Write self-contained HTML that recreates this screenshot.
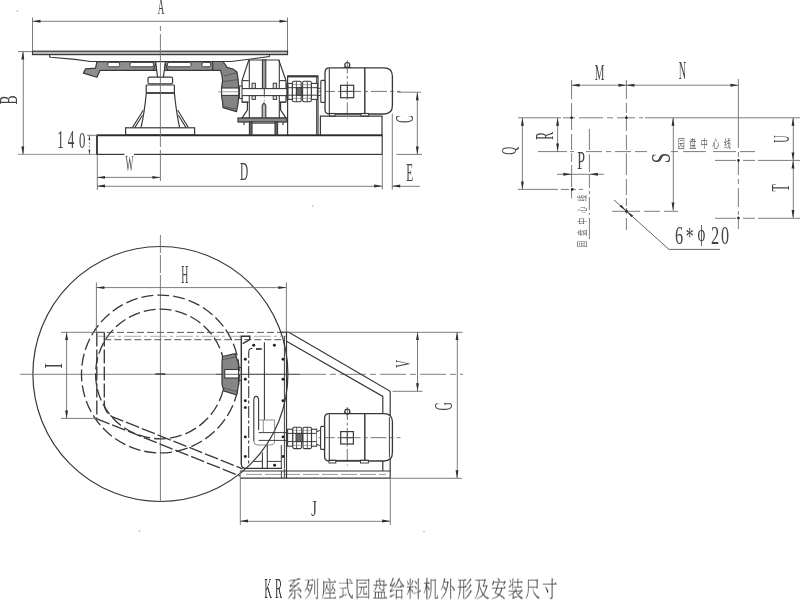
<!DOCTYPE html>
<html lang="zh"><head><meta charset="utf-8"><title>KR系列座式园盘给料机外形及安装尺寸</title>
<style>
html,body{margin:0;padding:0;background:#fff;}
body{width:800px;height:600px;overflow:hidden;position:relative;font-family:"Liberation Serif","Noto Serif CJK SC",serif;}
svg{display:block;position:absolute;left:0;top:0;will-change:transform;}
</style></head><body>
<svg width="800" height="600" viewBox="0 0 800 600">
<defs><filter id="soft" x="0" y="0" width="800" height="600" filterUnits="userSpaceOnUse"><feGaussianBlur stdDeviation="0.42"/></filter></defs>
<rect x="0" y="0" width="800" height="600" fill="#ffffff"/>
<g filter="url(#soft)">
<line x1="32.50" y1="17.50" x2="32.50" y2="52.00" stroke="#6e6e6e" stroke-width="0.9"/>
<line x1="287.50" y1="17.50" x2="287.50" y2="52.00" stroke="#6e6e6e" stroke-width="0.9"/>
<line x1="32.50" y1="21.30" x2="287.50" y2="21.30" stroke="#6e6e6e" stroke-width="0.9"/>
<polygon points="32.50,21.30 40.50,19.85 40.50,22.75" fill="#2e2e2e"/>
<polygon points="287.50,21.30 279.50,22.75 279.50,19.85" fill="#2e2e2e"/>
<text transform="translate(157.71,14.40) scale(0.0908,0.2409)" font-family="'Liberation Serif',serif" font-size="100" fill="#444">A</text>
<rect x="32.50" y="51.20" width="255.00" height="3.40" rx="0" stroke="#383838" stroke-width="1.2" fill="#b8b8b8"/>
<path d="M49.6,54.6 L49.6,56.8 L51,57.2 L75,59.4 L90.6,61.5 L231,61.5 L269.4,56.6 L269.4,54.6" stroke="#383838" stroke-width="1.08" fill="none"/>
<line x1="18.00" y1="51.60" x2="32.50" y2="51.60" stroke="#6e6e6e" stroke-width="0.9"/>
<line x1="18.00" y1="154.40" x2="97.00" y2="154.40" stroke="#8a8a8a" stroke-width="0.9"/>
<line x1="23.30" y1="51.60" x2="23.30" y2="154.40" stroke="#6e6e6e" stroke-width="0.9"/>
<polygon points="22.80,51.60 24.25,59.60 21.35,59.60" fill="#2e2e2e"/>
<polygon points="22.80,154.40 21.35,146.40 24.25,146.40" fill="#2e2e2e"/>
<text transform="translate(17.43,104.39) rotate(-90) scale(0.1357,0.2463)" font-family="'Liberation Serif',serif" font-size="100" fill="#444">B</text>
<path d="M96.9,61.6 L222,61.6 L222,70.4 L100,70.4 L96.9,77.2 L83.4,73.1 L85.6,68.8 L95.6,68.1 Z" stroke="#383838" stroke-width="1.2" fill="#8e8e8e" stroke-linejoin="round"/>
<rect x="107.80" y="62.40" width="11.90" height="4.40" rx="1.6" stroke="#383838" stroke-width="0.96" fill="#fff"/>
<rect x="130.00" y="62.40" width="23.50" height="4.40" rx="1.6" stroke="#383838" stroke-width="0.96" fill="#fff"/>
<rect x="167.50" y="62.40" width="23.50" height="4.40" rx="1.6" stroke="#383838" stroke-width="0.96" fill="#fff"/>
<rect x="202.00" y="62.40" width="8.60" height="4.40" rx="1.6" stroke="#383838" stroke-width="0.96" fill="#fff"/>
<path d="M155.6,61.6 L157.6,77.5 L163.4,77.5 L165.4,61.6 Z" stroke="#383838" stroke-width="1.2" fill="#fff"/>
<path d="M153,70.6 L155.8,64 M168,70.6 L165.2,64" stroke="#383838" stroke-width="1.08" fill="none"/>
<rect x="148.00" y="77.20" width="24.60" height="6.60" rx="1.5" stroke="#383838" stroke-width="1.2" fill="#fff"/>
<rect x="146.20" y="85.00" width="28.20" height="8.00" rx="0.8" stroke="#383838" stroke-width="1.2" fill="#fff"/>
<line x1="146.20" y1="93.00" x2="174.40" y2="93.00" stroke="#383838" stroke-width="1.68"/>
<path d="M146.3,93 Q144.6,112 141,127.6 M174.4,93 Q176.2,112 179.6,127.6" stroke="#383838" stroke-width="1.2" fill="none"/>
<path d="M143.4,110 L132.4,127.6 M142.5,115.2 L134.8,127.6 M177.6,110 L188.4,127.6 M178.4,115.2 L186,127.6" stroke="#383838" stroke-width="1.08" fill="none"/>
<rect x="125.60" y="127.80" width="69.00" height="7.20" rx="0" stroke="#383838" stroke-width="1.2" fill="#fff"/>
<rect x="97.00" y="135.20" width="285.20" height="19.20" rx="0" stroke="#383838" stroke-width="1.2" fill="none"/>
<line x1="97.00" y1="135.30" x2="382.20" y2="135.30" stroke="#2c2c2c" stroke-width="1.8"/>
<line x1="97.00" y1="135.00" x2="97.00" y2="154.40" stroke="#383838" stroke-width="1.68"/>
<path d="M160.4,26 L160.4,31 M160.4,34 L160.4,147 M160.4,150 L160.4,181" stroke="#6e6e6e" stroke-width="0.9" fill="none"/>
<line x1="87.00" y1="135.30" x2="97.00" y2="135.30" stroke="#6e6e6e" stroke-width="0.9"/>
<line x1="89.40" y1="135.20" x2="89.40" y2="154.40" stroke="#6e6e6e" stroke-width="0.9" stroke-dasharray="2 1.5"/>
<polygon points="89.40,135.40 90.30,139.90 88.50,139.90" fill="#2e2e2e"/>
<polygon points="89.40,154.20 88.50,149.70 90.30,149.70" fill="#2e2e2e"/>
<text transform="scale(0.5378,1)" font-family="'Liberation Serif',serif" fill="#444"><tspan x="106.29" y="148.00" font-size="24.24">1</tspan><tspan x="125.90" y="148.00" font-size="24.31">4</tspan><tspan x="147.11" y="147.77" font-size="23.71">0</tspan></text>
<line x1="97.30" y1="154.40" x2="97.30" y2="190.00" stroke="#6e6e6e" stroke-width="0.9"/>
<line x1="97.00" y1="177.40" x2="160.40" y2="177.40" stroke="#6e6e6e" stroke-width="0.9"/>
<polygon points="97.00,177.40 105.00,175.95 105.00,178.85" fill="#2e2e2e"/>
<polygon points="160.40,177.40 152.40,178.85 152.40,175.95" fill="#2e2e2e"/>
<rect x="124.50" y="152.50" width="9.50" height="4.50" rx="0" stroke="none" stroke-width="0" fill="#fff"/>
<text transform="translate(125.49,171.14) scale(0.0850,0.2388)" font-family="'Liberation Serif',serif" font-size="100" fill="#444">W</text>
<line x1="97.00" y1="186.30" x2="382.20" y2="186.30" stroke="#6e6e6e" stroke-width="0.9"/>
<polygon points="97.00,186.00 105.00,184.55 105.00,187.45" fill="#2e2e2e"/>
<polygon points="382.20,186.00 374.20,187.45 374.20,184.55" fill="#2e2e2e"/>
<text transform="translate(239.97,180.25) scale(0.1133,0.2482)" font-family="'Liberation Serif',serif" font-size="100" fill="#444">D</text>
<line x1="382.30" y1="154.40" x2="382.30" y2="189.60" stroke="#6e6e6e" stroke-width="0.9"/>
<line x1="392.30" y1="113.80" x2="392.30" y2="189.60" stroke="#6e6e6e" stroke-width="0.9"/>
<line x1="392.20" y1="186.30" x2="420.00" y2="186.30" stroke="#6e6e6e" stroke-width="0.9"/>
<polygon points="392.20,186.00 400.20,184.55 400.20,187.45" fill="#2e2e2e"/>
<text transform="translate(406.18,181.30) scale(0.1127,0.2474)" font-family="'Liberation Serif',serif" font-size="100" fill="#444">E</text>
<line x1="397.50" y1="92.20" x2="421.00" y2="92.20" stroke="#6e6e6e" stroke-width="0.9"/>
<line x1="396.50" y1="154.40" x2="422.00" y2="154.40" stroke="#6e6e6e" stroke-width="0.9"/>
<line x1="417.30" y1="92.20" x2="417.30" y2="154.40" stroke="#6e6e6e" stroke-width="0.9"/>
<polygon points="417.30,92.20 418.75,100.20 415.85,100.20" fill="#2e2e2e"/>
<polygon points="417.30,154.40 415.85,146.40 418.75,146.40" fill="#2e2e2e"/>
<text transform="translate(413.15,123.07) rotate(-90) scale(0.1156,0.2545)" font-family="'Liberation Serif',serif" font-size="100" fill="#444">C</text>
<path d="M212.7,61.5 L223,61.5 L227.2,67.4 L232.9,69 L237,72 L238,78.8 L238.7,86 L238.7,96.3 L238,103.5 L236.5,111.6 L223,107.7 L222.6,102.5 L221.6,96.3 L221.6,87 L222.6,80.8 L222,75.7 L220.5,70.4 L212.7,70.4 Z" stroke="#383838" stroke-width="1.2" fill="#848484" stroke-linejoin="round"/>
<path d="M224,75.9 L236.4,72.8 M223.6,106.4 L236.6,109.2 M223.4,81.5 L238.2,79.5" stroke="#505050" stroke-width="0.8" fill="none"/>
<rect x="221.60" y="88.00" width="17.10" height="7.40" rx="0" stroke="#383838" stroke-width="1.08" fill="#fff"/>
<line x1="218.00" y1="91.80" x2="292.00" y2="91.80" stroke="#6e6e6e" stroke-width="0.7"/>
<path d="M248.8,60 L278.8,60 L286,80.6 L286,102 L280.6,102 L280.6,110 L286,118 L242,118 L247.4,110 L247.4,102 L242,102 L242,80.6 Z" stroke="#383838" stroke-width="1.2" fill="#fff"/>
<line x1="249.30" y1="60.00" x2="249.30" y2="118.00" stroke="#383838" stroke-width="1.08"/>
<line x1="279.30" y1="60.00" x2="279.30" y2="118.00" stroke="#383838" stroke-width="1.08"/>
<line x1="242.00" y1="80.60" x2="248.80" y2="80.60" stroke="#383838" stroke-width="1.08"/>
<line x1="279.20" y1="80.60" x2="286.00" y2="80.60" stroke="#383838" stroke-width="1.08"/>
<line x1="242.00" y1="102.30" x2="248.80" y2="102.30" stroke="#383838" stroke-width="1.08"/>
<line x1="279.20" y1="102.30" x2="286.00" y2="102.30" stroke="#383838" stroke-width="1.08"/>
<rect x="262.40" y="60.00" width="3.40" height="28.60" rx="0" stroke="#383838" stroke-width="1.08" fill="#9a9a9a"/>
<rect x="239.60" y="88.60" width="48.40" height="7.00" rx="0" stroke="#383838" stroke-width="1.08" fill="#fff"/>
<line x1="264.30" y1="88.60" x2="264.30" y2="95.60" stroke="#383838" stroke-width="0.96"/>
<rect x="239.60" y="86.00" width="2.40" height="12.50" rx="0" stroke="#383838" stroke-width="0.96" fill="#fff"/>
<rect x="252.00" y="83.20" width="3.40" height="5.20" rx="0" stroke="#383838" stroke-width="0.96" fill="#ddd"/>
<rect x="252.00" y="95.80" width="3.40" height="3.60" rx="0" stroke="#383838" stroke-width="0.96" fill="#ddd"/>
<rect x="273.20" y="83.20" width="3.40" height="5.20" rx="0" stroke="#383838" stroke-width="0.96" fill="#ddd"/>
<rect x="273.20" y="95.80" width="3.40" height="3.60" rx="0" stroke="#383838" stroke-width="0.96" fill="#ddd"/>
<path d="M262.2,118 L262.2,105.5 L264,103 L265.8,105.5 L265.8,118" stroke="#383838" stroke-width="1.08" fill="#bbb"/>
<line x1="264.30" y1="96.00" x2="264.30" y2="103.00" stroke="#6e6e6e" stroke-width="0.6" stroke-dasharray="2 1.5"/>
<rect x="238.00" y="118.00" width="49.00" height="4.00" rx="0" stroke="#383838" stroke-width="1.2" fill="#8a8a8a"/>
<rect x="249.40" y="122.00" width="2.60" height="13.00" rx="0" stroke="#383838" stroke-width="1.08" fill="#666"/>
<rect x="275.00" y="122.00" width="2.60" height="13.00" rx="0" stroke="#383838" stroke-width="1.08" fill="#666"/>
<line x1="252.00" y1="123.20" x2="275.00" y2="123.20" stroke="#383838" stroke-width="0.96"/>
<line x1="244.00" y1="122.00" x2="244.00" y2="125.00" stroke="#383838" stroke-width="1.2"/>
<line x1="283.00" y1="122.00" x2="283.00" y2="125.00" stroke="#383838" stroke-width="1.2"/>
<path d="M287.6,135 L287.6,76.2 L318,76.2 L318,135" stroke="#383838" stroke-width="1.2" fill="none"/>
<line x1="316.60" y1="76.20" x2="316.60" y2="135.00" stroke="#383838" stroke-width="0.96"/>
<line x1="287.60" y1="76.40" x2="318.00" y2="76.40" stroke="#383838" stroke-width="2.04"/>
<rect x="287.00" y="83.40" width="5.40" height="16.00" rx="0" stroke="#383838" stroke-width="1.08" fill="#fff"/>
<rect x="311.30" y="83.40" width="6.10" height="16.00" rx="0" stroke="#383838" stroke-width="1.08" fill="#fff"/>
<rect x="292.40" y="81.30" width="8.80" height="20.40" rx="1.5" stroke="#383838" stroke-width="1.08" fill="#fff"/>
<rect x="302.60" y="81.30" width="8.70" height="20.40" rx="1.5" stroke="#383838" stroke-width="1.08" fill="#fff"/>
<line x1="287.00" y1="87.70" x2="317.40" y2="87.70" stroke="#383838" stroke-width="0.96"/>
<line x1="287.00" y1="95.20" x2="317.40" y2="95.20" stroke="#383838" stroke-width="0.96"/>
<line x1="296.40" y1="81.30" x2="296.40" y2="101.70" stroke="#383838" stroke-width="0.84"/>
<line x1="307.30" y1="81.30" x2="307.30" y2="101.70" stroke="#383838" stroke-width="0.84"/>
<line x1="292.40" y1="84.60" x2="311.30" y2="84.60" stroke="#6e6e6e" stroke-width="0.6"/>
<line x1="292.40" y1="98.40" x2="311.30" y2="98.40" stroke="#6e6e6e" stroke-width="0.6"/>
<rect x="296.40" y="87.70" width="5.40" height="7.50" rx="0" stroke="#383838" stroke-width="0.96" fill="#6a6a6a"/>
<line x1="287.60" y1="83.40" x2="287.60" y2="99.40" stroke="#383838" stroke-width="1.92"/>
<path d="M329.5,67.8 L383.9,67.8 Q392.4,67.8 392.4,76.3 L392.4,105.5 Q392.4,114 383.9,114 L329.5,114 Q325,114 325,109.5 L325,72.3 Q325,67.8 329.5,67.8 Z" stroke="#383838" stroke-width="1.32" fill="#fff"/>
<line x1="329.30" y1="68.60" x2="329.30" y2="113.20" stroke="#383838" stroke-width="1.08"/>
<line x1="364.80" y1="67.80" x2="364.80" y2="114.00" stroke="#383838" stroke-width="1.44"/>
<rect x="340.60" y="85.30" width="13.10" height="12.40" rx="0" stroke="#383838" stroke-width="1.2" fill="#fff"/>
<line x1="347.30" y1="85.30" x2="347.30" y2="97.70" stroke="#383838" stroke-width="0.96"/>
<line x1="340.60" y1="91.40" x2="353.70" y2="91.40" stroke="#383838" stroke-width="0.96"/>
<line x1="347.30" y1="60.40" x2="347.30" y2="118.50" stroke="#505050" stroke-width="0.8" stroke-dasharray="13 2.5 3 2.5"/>
<line x1="319.00" y1="91.40" x2="400.40" y2="91.40" stroke="#505050" stroke-width="0.8" stroke-dasharray="16 3 4 3"/>
<circle cx="347.30" cy="65.00" r="2.50" stroke="#383838" stroke-width="1.2" fill="none"/>
<path d="M343.6,67.8 Q345.2,67.39999999999999 345.4,66.0 M351,67.8 Q349.4,67.39999999999999 349.2,66.0" stroke="#383838" stroke-width="1.08" fill="none"/>
<rect x="320.80" y="80.40" width="4.20" height="22.00" rx="1" stroke="#383838" stroke-width="1.08" fill="#fff"/>
<line x1="318.00" y1="88.30" x2="320.80" y2="88.30" stroke="#383838" stroke-width="0.96"/>
<line x1="318.00" y1="95.50" x2="320.80" y2="95.50" stroke="#383838" stroke-width="0.96"/>
<rect x="329.50" y="113.40" width="5.50" height="2.80" rx="0" stroke="#383838" stroke-width="0.96" fill="#fff"/>
<rect x="361.00" y="113.40" width="7.60" height="2.80" rx="0" stroke="#383838" stroke-width="0.96" fill="#fff"/>
<line x1="329.50" y1="113.60" x2="368.60" y2="113.60" stroke="#383838" stroke-width="0.96"/>
<path d="M320.4,135 L320.4,116.2 L382,116.2 L382,135" stroke="#383838" stroke-width="1.2" fill="none"/>
<path d="M571.60,80.00 L571.60,99.30 M571.60,103.00 L571.60,130.00 M571.60,134.00 L571.60,150.00 M571.60,153.00 L571.60,162.00 M571.60,165.00 L571.60,187.00 M571.60,189.40 L571.60,198.50" stroke="#6e6e6e" stroke-width="0.9" fill="none"/>
<path d="M626.40,80.00 L626.40,99.00 M626.40,103.00 L626.40,113.00 M626.40,115.00 L626.40,131.00 M626.40,135.00 L626.40,150.00 M626.40,153.00 L626.40,175.00 M626.40,179.00 L626.40,195.00 M626.40,198.00 L626.40,206.00 M626.40,208.00 L626.40,214.00 M626.40,218.00 L626.40,230.00" stroke="#6e6e6e" stroke-width="0.9" fill="none"/>
<path d="M738.40,79.00 L738.40,148.00 M738.40,152.00 L738.40,157.00 M738.40,159.00 L738.40,175.00 M738.40,179.00 L738.40,184.00 M738.40,188.00 L738.40,207.00 M738.40,211.00 L738.40,215.00 M738.40,216.50 L738.40,229.00" stroke="#6e6e6e" stroke-width="0.9" fill="none"/>
<line x1="571.60" y1="85.20" x2="738.40" y2="85.20" stroke="#6e6e6e" stroke-width="0.9"/>
<polygon points="571.60,85.20 579.60,83.75 579.60,86.65" fill="#2e2e2e"/>
<polygon points="626.40,85.20 618.40,86.65 618.40,83.75" fill="#2e2e2e"/>
<polygon points="626.40,85.20 634.40,83.75 634.40,86.65" fill="#2e2e2e"/>
<polygon points="738.40,85.20 730.40,86.65 730.40,83.75" fill="#2e2e2e"/>
<text transform="translate(594.69,79.80) scale(0.1083,0.2413)" font-family="'Liberation Serif',serif" font-size="100" fill="#444">M</text>
<text transform="translate(678.71,79.00) scale(0.1014,0.2520)" font-family="'Liberation Serif',serif" font-size="100" fill="#444">N</text>
<path d="M518.00,117.80 L561.00,117.80 M563.00,117.80 L575.00,117.80 M579.00,117.80 L603.00,117.80 M607.00,117.80 L613.00,117.80 M617.00,117.80 L635.00,117.80 M639.00,117.80 L643.00,117.80 M645.00,117.80 L800.00,117.80" stroke="#6e6e6e" stroke-width="0.9" fill="none"/>
<circle cx="571.60" cy="117.80" r="1.3" fill="#222"/>
<circle cx="626.40" cy="117.80" r="1.3" fill="#222"/>
<line x1="522.40" y1="117.80" x2="522.40" y2="189.40" stroke="#6e6e6e" stroke-width="0.9"/>
<polygon points="522.40,117.80 523.85,125.80 520.95,125.80" fill="#2e2e2e"/>
<polygon points="522.40,189.40 520.95,181.40 523.85,181.40" fill="#2e2e2e"/>
<text transform="translate(516.46,154.86) rotate(-90) scale(0.1114,0.2184)" font-family="'Liberation Serif',serif" font-size="100" fill="#444">Q</text>
<path d="M518.00,189.40 L558.00,189.40 M561.00,189.40 L569.00,189.40 M571.00,189.40 L576.00,189.40 M579.00,189.40 L583.00,189.40" stroke="#6e6e6e" stroke-width="0.9" fill="none"/>
<circle cx="572.20" cy="189.40" r="1.3" fill="#222"/>
<line x1="557.60" y1="117.80" x2="557.60" y2="151.60" stroke="#6e6e6e" stroke-width="0.9"/>
<polygon points="557.60,117.80 559.05,125.80 556.15,125.80" fill="#2e2e2e"/>
<polygon points="557.60,151.60 556.15,143.60 559.05,143.60" fill="#2e2e2e"/>
<text transform="translate(553.00,139.73) rotate(-90) scale(0.1162,0.2444)" font-family="'Liberation Serif',serif" font-size="100" fill="#444">R</text>
<path d="M538.00,151.60 L567.00,151.60 M570.00,151.60 L574.00,151.60 M586.00,151.60 L602.00,151.60 M606.00,151.60 L611.00,151.60 M615.00,151.60 L631.00,151.60 M635.00,151.60 L647.00,151.60 M671.00,151.60 L678.00,151.60 M683.00,151.60 L706.00,151.60 M713.00,151.60 L736.00,151.60 M740.00,151.60 L755.00,151.60" stroke="#6e6e6e" stroke-width="0.9" fill="none"/>
<path d="M589.40,129.00 L589.40,150.00 M589.40,154.00 L589.40,172.00 M589.40,175.00 L589.40,188.00 M589.40,191.00 L589.40,194.00 M589.40,197.00 L589.40,210.00 M589.40,213.00 L589.40,215.00 M589.40,218.00 L589.40,239.00" stroke="#6e6e6e" stroke-width="0.9" fill="none"/>
<line x1="557.00" y1="174.30" x2="604.00" y2="174.30" stroke="#6e6e6e" stroke-width="0.9"/>
<polygon points="571.80,174.30 563.30,175.75 563.30,172.85" fill="#2e2e2e"/>
<polygon points="589.40,174.30 597.90,172.85 597.90,175.75" fill="#2e2e2e"/>
<text transform="translate(577.20,169.00) scale(0.1395,0.2459)" font-family="'Liberation Serif',serif" font-size="100" fill="#444">P</text>
<line x1="673.30" y1="117.80" x2="673.30" y2="210.60" stroke="#6e6e6e" stroke-width="0.9"/>
<polygon points="673.00,117.80 674.45,125.80 671.55,125.80" fill="#2e2e2e"/>
<polygon points="673.00,210.60 671.55,202.60 674.45,202.60" fill="#2e2e2e"/>
<text transform="translate(669.74,163.25) rotate(-90) scale(0.1872,0.2679)" font-family="'Liberation Serif',serif" font-size="100" fill="#444">S</text>
<path d="M612.00,211.30 L640.00,211.30 M644.00,211.30 L660.00,211.30 M664.00,211.30 L678.00,211.30" stroke="#6e6e6e" stroke-width="0.9" fill="none"/>
<circle cx="626.40" cy="211.00" r="1.5" fill="#222"/>
<path d="M715.00,160.40 L736.00,160.40 M743.00,160.40 L755.00,160.40 M758.00,160.40 L800.00,160.40" stroke="#6e6e6e" stroke-width="0.9" fill="none"/>
<path d="M715.00,218.30 L736.00,218.30 M743.00,218.30 L755.00,218.30 M758.00,218.30 L800.00,218.30" stroke="#6e6e6e" stroke-width="0.9" fill="none"/>
<circle cx="738.40" cy="160.40" r="1.3" fill="#222"/>
<circle cx="738.40" cy="218.00" r="1.3" fill="#222"/>
<line x1="793.30" y1="117.80" x2="793.30" y2="218.00" stroke="#6e6e6e" stroke-width="0.9"/>
<polygon points="793.00,117.80 794.45,125.80 791.55,125.80" fill="#2e2e2e"/>
<polygon points="793.00,160.40 791.55,152.40 794.45,152.40" fill="#2e2e2e"/>
<polygon points="793.00,160.40 794.45,168.40 791.55,168.40" fill="#2e2e2e"/>
<polygon points="793.00,218.00 791.55,210.00 794.45,210.00" fill="#2e2e2e"/>
<text transform="translate(788.76,142.82) rotate(-90) scale(0.1029,0.2408)" font-family="'Liberation Serif',serif" font-size="100" fill="#444">U</text>
<text transform="translate(789.00,191.61) rotate(-90) scale(0.1180,0.2444)" font-family="'Liberation Serif',serif" font-size="100" fill="#444">T</text>
<path d="M614,200 L669,249.4 L720,249.4" stroke="#555" stroke-width="0.9" fill="none"/>
<polygon points="626.40,211.00 619.64,206.56 621.24,204.77" fill="#2e2e2e"/>
<polygon points="626.40,211.00 633.16,215.44 631.56,217.23" fill="#2e2e2e"/>
<text transform="scale(0.6414,1)" font-family="'Liberation Serif',serif" fill="#444"><tspan x="1052.37" y="243.75" font-size="25.30">6</tspan><tspan x="1069.09" y="245.07" font-size="24.54">*</tspan><tspan x="1087.55" y="241.07" font-size="23.16">ϕ</tspan><tspan x="1108.71" y="244.00" font-size="25.68">2</tspan><tspan x="1124.28" y="243.75" font-size="25.19">0</tspan></text>
<text transform="translate(677.8,148.2) scale(0.62,1)" x="0" y="0" font-family="'Liberation Sans','Noto Sans CJK SC',sans-serif" font-size="11.4" letter-spacing="7.2" fill="#5c5c5c">园盘中心线</text>
<text transform="translate(586,247.6) rotate(-90) scale(0.62,1)" x="0" y="0" font-family="'Liberation Sans','Noto Sans CJK SC',sans-serif" font-size="10.6" letter-spacing="8.0" fill="#6a6a6a">园盘中心线</text>
<circle cx="160.40" cy="374.00" r="127.50" stroke="#383838" stroke-width="1.2" fill="none"/>
<path d="M160.4,235 L160.4,253 M160.4,255 L160.4,273 M160.4,275 L160.4,501.6" stroke="#6e6e6e" stroke-width="0.9" fill="none"/>
<line x1="20.00" y1="374.30" x2="300.00" y2="374.30" stroke="#6e6e6e" stroke-width="0.9"/>
<line x1="300.00" y1="374.30" x2="463.00" y2="374.30" stroke="#6e6e6e" stroke-width="0.9" stroke-dasharray="26 4 6 4"/>
<line x1="155.40" y1="374.00" x2="165.40" y2="374.00" stroke="#383838" stroke-width="1.44"/>
<circle cx="160.40" cy="374.00" r="78.90" stroke="#383838" stroke-width="1.32" fill="none" stroke-dasharray="12 4"/>
<circle cx="160.40" cy="374.00" r="64.80" stroke="#383838" stroke-width="1.32" fill="none" stroke-dasharray="12 4"/>
<line x1="96.40" y1="282.40" x2="96.40" y2="332.00" stroke="#6e6e6e" stroke-width="0.9"/>
<line x1="286.40" y1="282.40" x2="286.40" y2="336.00" stroke="#6e6e6e" stroke-width="0.9"/>
<line x1="96.40" y1="287.60" x2="286.40" y2="287.60" stroke="#6e6e6e" stroke-width="0.9"/>
<polygon points="96.40,287.60 104.40,286.15 104.40,289.05" fill="#2e2e2e"/>
<polygon points="286.40,287.60 278.40,289.05 278.40,286.15" fill="#2e2e2e"/>
<text transform="translate(181.22,282.80) scale(0.0979,0.2566)" font-family="'Liberation Serif',serif" font-size="100" fill="#444">H</text>
<line x1="61.00" y1="332.30" x2="105.00" y2="332.30" stroke="#6e6e6e" stroke-width="0.9"/>
<line x1="61.00" y1="418.40" x2="97.00" y2="418.40" stroke="#6e6e6e" stroke-width="0.9"/>
<line x1="66.60" y1="332.00" x2="66.60" y2="418.40" stroke="#6e6e6e" stroke-width="0.9"/>
<polygon points="66.60,332.00 68.05,340.00 65.15,340.00" fill="#2e2e2e"/>
<polygon points="66.60,418.40 65.15,410.40 68.05,410.40" fill="#2e2e2e"/>
<text transform="translate(61.60,368.38) rotate(-90) scale(0.1605,0.2444)" font-family="'Liberation Serif',serif" font-size="100" fill="#444">I</text>
<line x1="97.00" y1="332.40" x2="283.00" y2="332.40" stroke="#505050" stroke-width="0.95" stroke-dasharray="7 3"/>
<line x1="104.30" y1="339.70" x2="283.00" y2="339.70" stroke="#505050" stroke-width="0.95" stroke-dasharray="7 3"/>
<line x1="98.00" y1="336.30" x2="286.00" y2="336.30" stroke="#8a8a8a" stroke-width="0.7" stroke-dasharray="17 3 3 3"/>
<line x1="96.80" y1="332.40" x2="96.80" y2="418.60" stroke="#383838" stroke-width="1.32" stroke-dasharray="14 3"/>
<path d="M104.3,332.4 L104.3,404 Q104.6,412 112,416.6 L242.5,468.8" stroke="#383838" stroke-width="1.32" fill="none" stroke-dasharray="14 3"/>
<line x1="96.40" y1="418.60" x2="240.00" y2="476.00" stroke="#383838" stroke-width="1.32" stroke-dasharray="14 3"/>
<path d="M222.4,356.5 L235.2,353.7 L238.4,363.3 L238.6,384.4 L236.6,395 L223.8,390.9 L222,384 L222,364 Z" stroke="#383838" stroke-width="1.2" fill="#868686" stroke-linejoin="round"/>
<path d="M223,359.6 L236.6,356.8 M223.6,388 L237.4,391.6" stroke="#505050" stroke-width="0.8" fill="none"/>
<rect x="224.70" y="369.50" width="13.90" height="8.50" rx="0" stroke="#383838" stroke-width="1.08" fill="#fff"/>
<line x1="216.00" y1="374.30" x2="300.00" y2="374.30" stroke="#555" stroke-width="0.9"/>
<line x1="238.60" y1="367.50" x2="241.40" y2="367.50" stroke="#383838" stroke-width="1.08"/>
<line x1="238.60" y1="380.30" x2="241.40" y2="380.30" stroke="#383838" stroke-width="1.08"/>
<path d="M241.3,464 L241.3,336.2 L249.7,336.2 L249.7,339.7 L242.7,343.7" stroke="#383838" stroke-width="1.44" fill="none"/>
<path d="M241.3,464 Q241.3,468.4 246,468.4 L282,468.4" stroke="#383838" stroke-width="1.32" fill="none"/>
<path d="M252.5,348.3 Q248.7,348.3 248.7,352 L248.7,466" stroke="#383838" stroke-width="1.08" fill="none" stroke-dasharray="12 2.5 3 2.5"/>
<line x1="264.40" y1="342.30" x2="264.40" y2="420.00" stroke="#383838" stroke-width="1.08"/>
<line x1="284.40" y1="336.20" x2="284.40" y2="468.00" stroke="#383838" stroke-width="0.96"/>
<line x1="286.50" y1="332.00" x2="286.50" y2="478.00" stroke="#383838" stroke-width="1.2"/>
<line x1="256.00" y1="349.00" x2="261.70" y2="349.00" stroke="#383838" stroke-width="1.7999999999999998"/>
<circle cx="253.70" cy="345.30" r="1.45" fill="#222"/>
<circle cx="274.40" cy="345.30" r="1.45" fill="#222"/>
<circle cx="245.30" cy="359.30" r="1.45" fill="#222"/>
<circle cx="245.30" cy="379.30" r="1.45" fill="#222"/>
<circle cx="245.30" cy="400.70" r="1.45" fill="#222"/>
<circle cx="245.30" cy="407.60" r="1.45" fill="#222"/>
<circle cx="245.30" cy="436.90" r="1.45" fill="#222"/>
<circle cx="245.30" cy="456.50" r="1.45" fill="#222"/>
<circle cx="283.00" cy="359.30" r="1.45" fill="#222"/>
<circle cx="283.00" cy="379.30" r="1.45" fill="#222"/>
<circle cx="283.00" cy="400.70" r="1.45" fill="#222"/>
<circle cx="283.00" cy="436.90" r="1.45" fill="#222"/>
<circle cx="283.00" cy="456.50" r="1.45" fill="#222"/>
<circle cx="274.60" cy="465.20" r="1.45" fill="#222"/>
<path d="M253.8,441 L253.8,400.6 Q253.8,396.4 256.2,396.4 Q258.6,396.4 258.6,400.6 L258.6,430" stroke="#383838" stroke-width="1.08" fill="none"/>
<path d="M253.8,441 Q253.8,445 257,445 L270,445 Q274.6,445 274.6,441 L274.6,420 L258.6,420" stroke="#6e6e6e" stroke-width="0.8" fill="none"/>
<line x1="263.30" y1="420.00" x2="263.30" y2="432.00" stroke="#6e6e6e" stroke-width="0.8"/>
<line x1="258.60" y1="432.60" x2="288.00" y2="432.60" stroke="#383838" stroke-width="0.96"/>
<line x1="258.60" y1="440.40" x2="288.00" y2="440.40" stroke="#383838" stroke-width="0.96"/>
<line x1="262.40" y1="452.60" x2="262.40" y2="468.00" stroke="#383838" stroke-width="1.08"/>
<line x1="267.30" y1="445.00" x2="267.30" y2="468.00" stroke="#383838" stroke-width="1.08"/>
<line x1="253.00" y1="461.40" x2="262.40" y2="461.40" stroke="#383838" stroke-width="0.96"/>
<line x1="266.80" y1="461.40" x2="281.00" y2="461.40" stroke="#383838" stroke-width="0.96"/>
<line x1="281.30" y1="445.00" x2="281.30" y2="468.00" stroke="#383838" stroke-width="0.96"/>
<line x1="280.70" y1="332.20" x2="288.80" y2="332.20" stroke="#383838" stroke-width="1.2"/>
<path d="M288.8,332.2 L390.2,391.3 L390.2,478.2" stroke="#383838" stroke-width="1.2" fill="none"/>
<path d="M286.5,341.3 L382.8,396.4 L382.8,471" stroke="#383838" stroke-width="1.2" fill="none"/>
<line x1="240.00" y1="471.00" x2="390.20" y2="471.00" stroke="#383838" stroke-width="1.2"/>
<line x1="240.00" y1="478.20" x2="390.20" y2="478.20" stroke="#383838" stroke-width="1.2"/>
<line x1="246.00" y1="474.40" x2="386.00" y2="474.40" stroke="#6e6e6e" stroke-width="0.7" stroke-dasharray="16 3"/>
<line x1="240.30" y1="471.00" x2="240.30" y2="525.00" stroke="#6e6e6e" stroke-width="0.9"/>
<line x1="286.50" y1="468.40" x2="286.50" y2="478.20" stroke="#383838" stroke-width="1.08"/>
<line x1="284.30" y1="468.40" x2="284.30" y2="478.20" stroke="#383838" stroke-width="0.96"/>
<line x1="281.40" y1="471.00" x2="281.40" y2="478.20" stroke="#383838" stroke-width="0.96"/>
<rect x="287.60" y="429.20" width="5.20" height="17.00" rx="0" stroke="#383838" stroke-width="1.08" fill="#fff"/>
<rect x="311.50" y="429.20" width="5.30" height="17.00" rx="0" stroke="#383838" stroke-width="1.08" fill="#fff"/>
<rect x="292.80" y="427.20" width="8.80" height="21.40" rx="1.5" stroke="#383838" stroke-width="1.08" fill="#fff"/>
<rect x="303.00" y="427.20" width="8.50" height="21.40" rx="1.5" stroke="#383838" stroke-width="1.08" fill="#fff"/>
<line x1="287.60" y1="433.40" x2="316.80" y2="433.40" stroke="#383838" stroke-width="0.96"/>
<line x1="287.60" y1="441.60" x2="316.80" y2="441.60" stroke="#383838" stroke-width="0.96"/>
<line x1="296.60" y1="427.20" x2="296.60" y2="448.60" stroke="#383838" stroke-width="0.84"/>
<line x1="307.30" y1="427.20" x2="307.30" y2="448.60" stroke="#383838" stroke-width="0.84"/>
<line x1="292.80" y1="430.40" x2="311.50" y2="430.40" stroke="#6e6e6e" stroke-width="0.6"/>
<line x1="292.80" y1="445.40" x2="311.50" y2="445.40" stroke="#6e6e6e" stroke-width="0.6"/>
<rect x="296.00" y="433.40" width="6.40" height="8.20" rx="0" stroke="#383838" stroke-width="0.96" fill="#6a6a6a"/>
<path d="M316.8,432 L320.6,430 L320.6,446 L316.8,444" stroke="#383838" stroke-width="0.96" fill="#fff"/>
<path d="M329.1,413.6 L383.9,413.6 Q392.4,413.6 392.4,422.1 L392.4,452.5 Q392.4,461 383.9,461 L329.1,461 Q324.6,461 324.6,456.5 L324.6,418.1 Q324.6,413.6 329.1,413.6 Z" stroke="#383838" stroke-width="1.32" fill="#fff"/>
<line x1="329.30" y1="414.40" x2="329.30" y2="460.20" stroke="#383838" stroke-width="1.08"/>
<line x1="364.80" y1="413.60" x2="364.80" y2="461.00" stroke="#383838" stroke-width="1.44"/>
<path d="M389.4,417.20000000000005 L389.4,457.4" stroke="#383838" stroke-width="0.96" fill="none"/>
<rect x="340.70" y="431.60" width="12.70" height="12.40" rx="0" stroke="#383838" stroke-width="1.2" fill="#fff"/>
<line x1="347.30" y1="431.60" x2="347.30" y2="444.00" stroke="#383838" stroke-width="0.96"/>
<line x1="340.70" y1="437.70" x2="353.40" y2="437.70" stroke="#383838" stroke-width="0.96"/>
<line x1="347.30" y1="407.00" x2="347.30" y2="465.50" stroke="#505050" stroke-width="0.8" stroke-dasharray="13 2.5 3 2.5"/>
<line x1="318.60" y1="437.70" x2="400.40" y2="437.70" stroke="#505050" stroke-width="0.8" stroke-dasharray="16 3 4 3"/>
<circle cx="347.30" cy="411.60" r="2.50" stroke="#383838" stroke-width="1.2" fill="none"/>
<path d="M343.6,413.6 Q345.2,413.20000000000005 345.4,411.8 M351,413.6 Q349.4,413.20000000000005 349.2,411.8" stroke="#383838" stroke-width="1.08" fill="none"/>
<rect x="320.60" y="426.40" width="4.00" height="23.00" rx="1" stroke="#383838" stroke-width="1.08" fill="#fff"/>
<rect x="329.00" y="460.20" width="6.80" height="2.80" rx="0" stroke="#383838" stroke-width="0.96" fill="#fff"/>
<rect x="360.50" y="460.20" width="7.90" height="2.80" rx="0" stroke="#383838" stroke-width="0.96" fill="#fff"/>
<line x1="329.00" y1="460.40" x2="368.40" y2="460.40" stroke="#383838" stroke-width="0.96"/>
<line x1="286.50" y1="332.30" x2="462.50" y2="332.30" stroke="#6e6e6e" stroke-width="0.9"/>
<line x1="392.50" y1="391.30" x2="422.50" y2="391.30" stroke="#6e6e6e" stroke-width="0.9"/>
<line x1="417.50" y1="332.00" x2="417.50" y2="391.30" stroke="#6e6e6e" stroke-width="0.9"/>
<polygon points="417.50,332.00 418.95,340.00 416.05,340.00" fill="#2e2e2e"/>
<polygon points="417.50,391.30 416.05,383.30 418.95,383.30" fill="#2e2e2e"/>
<text transform="translate(409.68,367.72) rotate(-90) scale(0.1086,0.2090)" font-family="'Liberation Serif',serif" font-size="100" fill="#444">V</text>
<line x1="390.20" y1="478.30" x2="462.00" y2="478.30" stroke="#6e6e6e" stroke-width="0.9"/>
<line x1="457.30" y1="332.00" x2="457.30" y2="478.20" stroke="#6e6e6e" stroke-width="0.9"/>
<polygon points="457.00,332.00 458.45,340.00 455.55,340.00" fill="#2e2e2e"/>
<polygon points="457.00,478.20 455.55,470.20 458.45,470.20" fill="#2e2e2e"/>
<text transform="translate(452.36,410.48) rotate(-90) scale(0.1169,0.2471)" font-family="'Liberation Serif',serif" font-size="100" fill="#444">G</text>
<line x1="390.30" y1="478.20" x2="390.30" y2="525.00" stroke="#6e6e6e" stroke-width="0.9"/>
<line x1="240.00" y1="521.30" x2="390.20" y2="521.30" stroke="#6e6e6e" stroke-width="0.9"/>
<polygon points="240.00,521.00 248.00,519.55 248.00,522.45" fill="#2e2e2e"/>
<polygon points="390.20,521.00 382.20,522.45 382.20,519.55" fill="#2e2e2e"/>
<text transform="translate(311.30,515.76) scale(0.1440,0.2408)" font-family="'Liberation Serif',serif" font-size="100" fill="#444">J</text>
<text transform="scale(0.3695,1)" font-family="'Liberation Serif',serif" fill="#3c3c3c"><tspan x="715.37" y="598.00" font-size="28.41">K</tspan><tspan x="744.44" y="598.00" font-size="28.41">R</tspan></text>
<text transform="translate(287.2,596.6) scale(0.72,1)" x="0" y="0" font-family="'Liberation Serif','Noto Serif CJK SC',serif" font-size="21.5" font-weight="300" letter-spacing="2.1" fill="#3c3c3c">系列座式园盘给料机外形及安装尺寸</text>
<circle cx="17.50" cy="11.00" r="0.8" fill="#a8a8a8"/>
<circle cx="312.80" cy="206.00" r="0.8" fill="#a8a8a8"/>
<circle cx="139.50" cy="531.00" r="0.8" fill="#a8a8a8"/>
<circle cx="424.00" cy="531.50" r="0.8" fill="#a8a8a8"/>
</g>
</svg>
</body></html>
